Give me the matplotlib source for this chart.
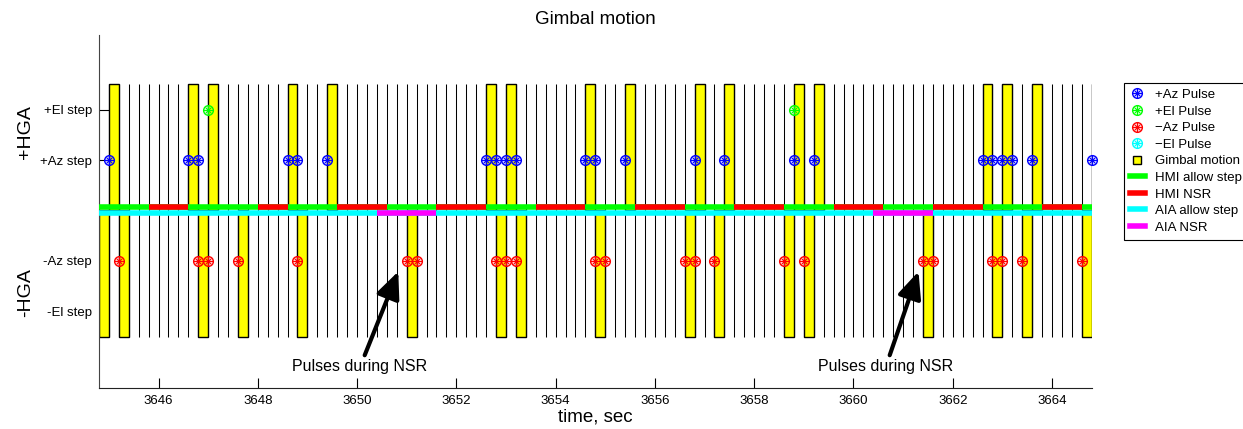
import matplotlib
matplotlib.use("Agg")
import matplotlib.pyplot as plt
from matplotlib.lines import Line2D
from matplotlib.legend_handler import HandlerTuple
import numpy as np

plt.rcParams['font.family'] = ['Liberation Sans', 'DejaVu Sans']

# time window and gimbal step slots (sec)
t_start = 3644.8
t_end = 3664.8
slot = 0.2

# pulse times
az_plus_t = [3645.0, 3646.6, 3646.8, 3648.6, 3648.8, 3649.4, 3652.6, 3652.8,
             3653.0, 3653.2, 3654.6, 3654.8, 3655.4, 3656.8, 3657.4, 3658.8,
             3659.2, 3662.6, 3662.8, 3663.0, 3663.2, 3663.6, 3664.8]
el_plus_t = [3647.0, 3658.8]
az_minus_t = [3645.2, 3646.8, 3647.0, 3647.6, 3648.8, 3651.0, 3651.2, 3652.8,
              3653.0, 3653.2, 3654.8, 3655.0, 3656.6, 3656.8, 3657.2, 3658.6,
              3659.0, 3661.4, 3661.6, 3662.8, 3663.0, 3663.4, 3664.6]
el_minus_t = []

# gimbal motion slots (+HGA / -HGA)
motion_up_t = [3645.0, 3646.6, 3647.0, 3648.6, 3649.4, 3652.6, 3653.0, 3654.6,
               3655.4, 3656.8, 3657.4, 3658.8, 3659.2, 3662.6, 3663.0, 3663.6,
               3664.8]
motion_down_t = [3644.8, 3645.2, 3646.8, 3647.6, 3648.8, 3651.0, 3652.8, 3653.2,
                 3654.8, 3656.6, 3657.2, 3658.6, 3659.0, 3661.4, 3662.8, 3663.4,
                 3664.6]

# no-step-request windows
hmi_nsr_start = [3645.8, 3648.0, 3649.6, 3651.6, 3653.6, 3655.6, 3657.6, 3659.6, 3661.6, 3663.8]
hmi_nsr_end = [3646.6, 3648.6, 3650.6, 3652.6, 3654.6, 3656.6, 3658.6, 3660.6, 3662.6, 3664.6]
aia_nsr_start = [3650.4, 3660.4]
aia_nsr_end = [3651.6, 3661.6]

# arrows: (tip time, tip level, text time, text level)
notes_t = [3650.83, 3661.31]
notes_tip_y = [-1.21, -1.21]
notes_txt_t = [3650.06, 3660.65]
notes_txt_y = [-3.1, -3.1]

fig = plt.figure(figsize=(12.43, 4.29), dpi=100)
ax = fig.add_axes([0.0796, 0.0956, 0.7987, 0.8228])

# step slot grid
slots = np.arange(t_start, t_end + slot / 2, slot)
ax.vlines(slots, -2.5, 2.5, colors='k', linewidth=0.75, zorder=1)

ax.bar(motion_up_t, 2.5, width=slot, bottom=0, align='edge', color='yellow',
       edgecolor='k', linewidth=1, zorder=2)
ax.bar(motion_down_t, -2.5, width=slot, bottom=0, align='edge', color='yellow',
       edgecolor='k', linewidth=1, zorder=2)

# HMI / AIA status bands
hmi_y = 0.06
aia_y = -0.055
band_lw = 4
ax.plot([t_start, t_end], [hmi_y, hmi_y], color=(0, 1, 0), lw=band_lw,
        solid_capstyle='butt', zorder=3)
for a, b in zip(hmi_nsr_start, hmi_nsr_end):
    ax.plot([a, b], [hmi_y, hmi_y], color='red', lw=band_lw, solid_capstyle='butt', zorder=3)
ax.plot([t_start, t_end], [aia_y, aia_y], color='cyan', lw=band_lw,
        solid_capstyle='butt', zorder=3)
for a, b in zip(aia_nsr_start, aia_nsr_end):
    ax.plot([a, b], [aia_y, aia_y], color='magenta', lw=band_lw, solid_capstyle='butt', zorder=3)


def pulses(t, level, c):
    y = [level] * len(t)
    h1, = ax.plot(t, y, 'o', ms=7, mfc='none', mec=c, mew=1, clip_on=False, zorder=5)
    h2, = ax.plot(t, y, '+', ms=7, mec=c, mew=1, clip_on=False, zorder=5)
    h3, = ax.plot(t, y, 'x', ms=5, mec=c, mew=0.8, clip_on=False, zorder=5)
    return (h1, h2, h3)


p_az = pulses(az_plus_t, 1, (0, 0, 1))
p_el = pulses(el_plus_t, 2, (0, 1, 0))
m_az = pulses(az_minus_t, -1, (1, 0, 0))
m_el = pulses(el_minus_t, -2, (0, 1, 1))

for tt, ty, xt, xy in zip(notes_t, notes_tip_y, notes_txt_t, notes_txt_y):
    ax.annotate('Pulses during NSR', xy=(tt, ty), xytext=(xt, xy), ha='center', va='center',
                fontsize=11.5, zorder=6,
                arrowprops=dict(arrowstyle='-|>,head_length=0.9,head_width=0.4', lw=3,
                                color='k', shrinkA=1, shrinkB=0, mutation_scale=18))

ax.set_xlim(t_start, t_end)
ax.set_ylim(-3.52, 3.48)
ax.set_xticks(np.arange(3646, 3665, 2))
ax.set_yticks([-2, -1, 1, 2])
ax.set_yticklabels(['-El step', '-Az step', '+Az step', '+El step'])
ax.tick_params(direction='in', length=7, width=0.8, labelsize=9.5, pad=5)
ax.set_axisbelow(True)
for s in ['top', 'right']:
    ax.spines[s].set_visible(False)
ax.spines['left'].set_color('#444444')
ax.spines['bottom'].set_color('#222222')

ax.set_title('Gimbal motion', fontsize=13.5, pad=8)
ax.set_xlabel('time, sec', fontsize=13.5, labelpad=1)
ax.text(-0.074, 1.55, '+HGA', rotation=90, fontsize=14, ha='center', va='center',
        transform=ax.get_yaxis_transform())
ax.text(-0.074, -1.62, '-HGA', rotation=90, fontsize=14, ha='center', va='center',
        transform=ax.get_yaxis_transform())

h_motion = Line2D([], [], ls='none', marker='s', ms=6, mfc='yellow', mec='k', mew=1)
h_hmi = Line2D([], [], color=(0, 1, 0), lw=band_lw)
h_hmi_nsr = Line2D([], [], color='red', lw=band_lw)
h_aia = Line2D([], [], color='cyan', lw=band_lw)
h_aia_nsr = Line2D([], [], color='magenta', lw=band_lw)
leg = fig.legend([p_az, p_el, m_az, m_el, h_motion, h_hmi, h_hmi_nsr, h_aia, h_aia_nsr],
                 ['+Az Pulse', '+El Pulse', '\u2212Az Pulse', '\u2212El Pulse', 'Gimbal motion',
                  'HMI allow step', 'HMI NSR', 'AIA allow step', 'AIA NSR'],
                 handler_map={tuple: HandlerTuple(ndivide=1, pad=0)},
                 loc='upper left', bbox_to_anchor=(0.9045, 0.807), fontsize=9.5,
                 fancybox=False, framealpha=1, edgecolor='k', borderaxespad=0,
                 handlelength=1.1, handletextpad=0.8, labelspacing=0.33, borderpad=0.45)
leg.get_frame().set_linewidth(0.8)

fig.savefig('out.png', dpi=100)
